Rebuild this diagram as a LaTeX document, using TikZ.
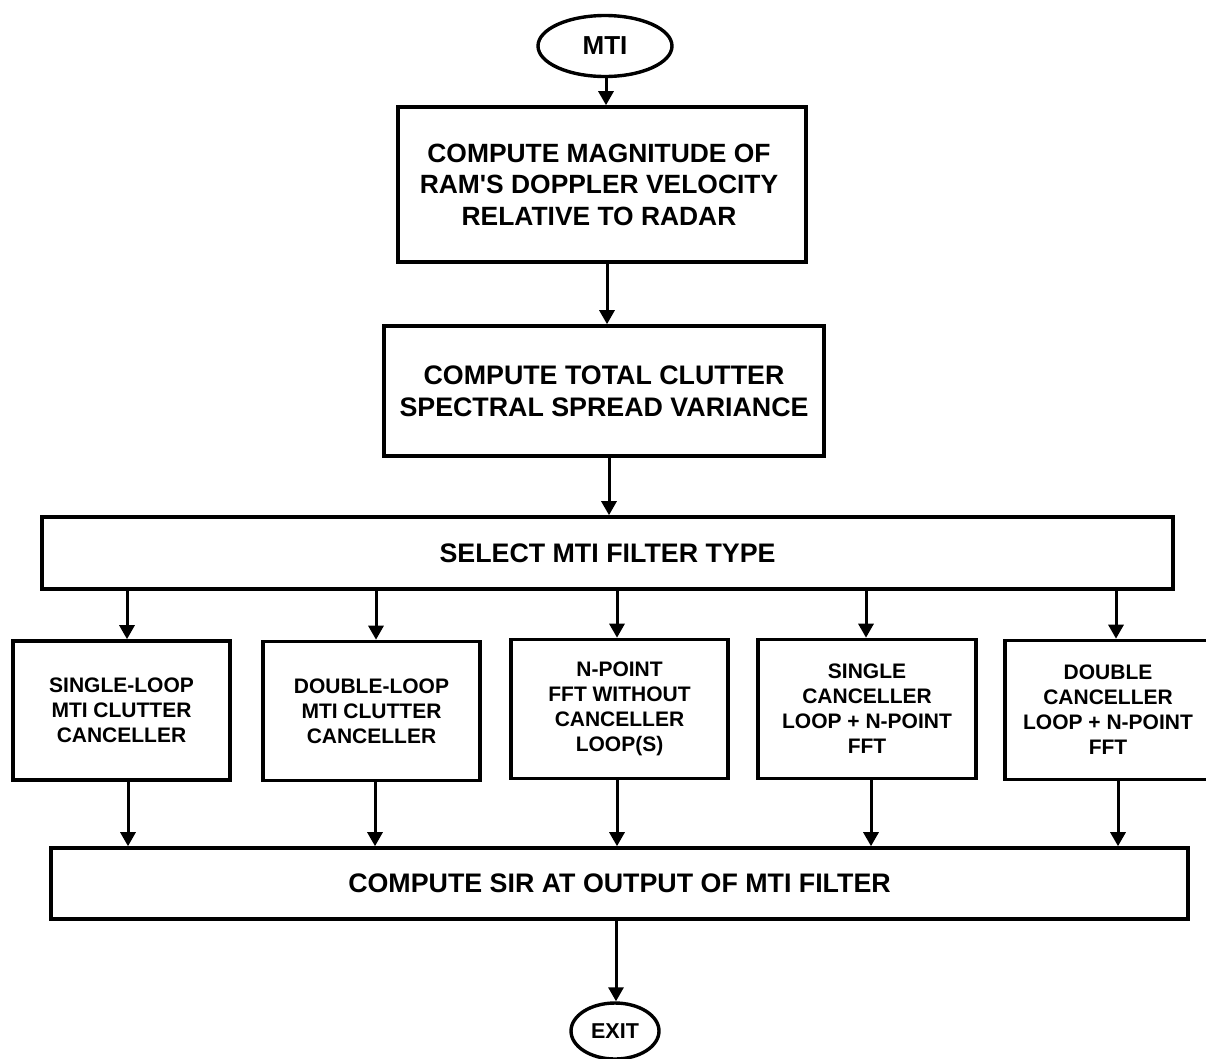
\documentclass[tikz,border=0pt]{standalone}
\usepackage{fontspec}
\setmainfont{Liberation Sans}[Ligatures=TeXOff]
\usetikzlibrary{shapes.geometric,arrows.meta}
\begin{document}
\begin{tikzpicture}[x=1pt,y=-1pt,
  box/.style={draw,line width=3.6pt,rectangle,inner sep=0pt,align=center,
    font=\fontsize{26.8}{32}\selectfont\bfseries},
  smallbox/.style={box,minimum width=217pt,minimum height=139pt,
    font=\fontsize{21}{25}\selectfont\bfseries},
  term/.style={draw,line width=3.4pt,ellipse,inner sep=0pt,align=center},
  arr/.style={line width=3pt,-{Triangle[length=14pt,width=15pt]}}]
\clip (0,0) rectangle (1206,1058);
\fill[white] (0,0) rectangle (1206,1058);

% terminals
\node[term,minimum width=134pt,minimum height=61pt,
  font=\fontsize{26}{30}\selectfont\bfseries] (mti) at (605,46) {MTI};
\node[term,minimum width=88pt,minimum height=56pt,
  font=\fontsize{21.5}{25}\selectfont\bfseries] (exit) at (615,1031) {EXIT};

% main chain
\node[box,minimum width=408pt,minimum height=155pt,
  font=\fontsize{26.4}{31.5}\selectfont\bfseries] (mag) at (602,184.5)
  {\hspace*{-6pt}COMPUTE MAGNITUDE OF\\\hspace*{-6pt}RAM'S DOPPLER VELOCITY\\\hspace*{-6pt}RELATIVE TO RADAR};
\node[box,minimum width=440pt,minimum height=130pt] (spread) at (604,391)
  {COMPUTE TOTAL CLUTTER\\SPECTRAL SPREAD VARIANCE};
\node[box,minimum width=1131pt,minimum height=72pt] (sel) at (607.5,553)
  {SELECT MTI FILTER TYPE};

% filter options
\node[smallbox] (f1) at (121.5,710.5) {SINGLE-LOOP\\MTI CLUTTER\\CANCELLER};
\node[smallbox] (f2) at (371.5,711) {DOUBLE-LOOP\\MTI CLUTTER\\CANCELLER};
\node[smallbox] (f3) at (619.5,709) {N-POINT\\FFT WITHOUT\\CANCELLER\\LOOP(S)};
\node[smallbox,minimum width=218pt] (f4) at (867,709) {SINGLE\\CANCELLER\\LOOP + N-POINT\\FFT};
\node[smallbox,minimum width=214pt] (f5) at (1112,710)
  {\hspace*{-8pt}DOUBLE\\\hspace*{-8pt}CANCELLER\\\hspace*{-8pt}LOOP + N-POINT\\\hspace*{-8pt}FFT};

\node[box,minimum width=1137pt,minimum height=71pt] (sir) at (619.5,883.5)
  {COMPUTE SIR AT OUTPUT OF MTI FILTER};

% connectors
\draw[arr] ([xshift=1pt]mti.south) -- ([xshift=1pt]mti.south |- mag.north);
\draw[arr] ([xshift=5pt]mag.south) -- ([xshift=5pt]mag.south |- spread.north);
\draw[arr] ([xshift=5pt]spread.south) -- ([xshift=5pt]spread.south |- sel.north);

\draw[arr] ([xshift=5.5pt]f1.north |- sel.south) -- ([xshift=5.5pt]f1.north);
\draw[arr] ([xshift=4.5pt]f2.north |- sel.south) -- ([xshift=4.5pt]f2.north);
\draw[arr] ([xshift=-2.5pt]f3.north |- sel.south) -- ([xshift=-2.5pt]f3.north);
\draw[arr] ([xshift=-1pt]f4.north |- sel.south) -- ([xshift=-1pt]f4.north);
\draw[arr] ([xshift=4pt]f5.north |- sel.south) -- ([xshift=4pt]f5.north);

\draw[arr] ([xshift=6.5pt]f1.south) -- ([xshift=6.5pt]f1.south |- sir.north);
\draw[arr] ([xshift=3.5pt]f2.south) -- ([xshift=3.5pt]f2.south |- sir.north);
\draw[arr] ([xshift=-2.5pt]f3.south) -- ([xshift=-2.5pt]f3.south |- sir.north);
\draw[arr] ([xshift=4pt]f4.south) -- ([xshift=4pt]f4.south |- sir.north);
\draw[arr] ([xshift=6pt]f5.south) -- ([xshift=6pt]f5.south |- sir.north);

\draw[arr] ([xshift=-3.5pt]sir.south) -- ([xshift=-3.5pt]sir.south |- exit.north);
\end{tikzpicture}
\end{document}
